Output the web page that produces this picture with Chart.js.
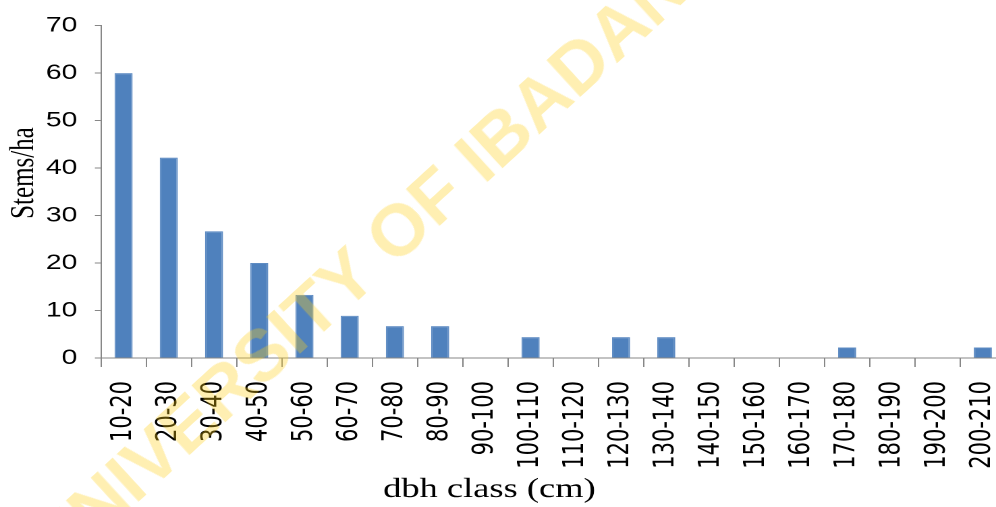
<!DOCTYPE html>
<html>
<head>
<meta charset="utf-8">
<script src="https://cdn.jsdelivr.net/npm/chart.js@4/dist/chart.umd.min.js"></script>
<style>
  html, body { margin: 0; padding: 0; background: #fff; overflow: hidden; }
  #stage { position: relative; width: 996px; height: 507px; overflow: hidden; }
  #wrap { position: absolute; left: 0; top: 0; width: 746px; height: 507px;
          transform: scaleX(1.3496); transform-origin: 0 0; }
  #wm { position: absolute; left: 358px; top: 266px; white-space: nowrap;
        font: bold 73px "Liberation Sans", Arial, sans-serif; line-height: 1;
        color: rgba(255, 205, 20, 0.33); transform: translate(-50%, -50%) rotate(-42.5deg);
        pointer-events: none; }
</style>
</head>
<body>
<div id="stage">
  <div id="wrap"><canvas id="c" width="746" height="507"></canvas></div>
  <div id="wm">UNIVERSITY OF IBADAN</div>
</div>
<script>
const categories = ["10-20","20-30","30-40","40-50","50-60","60-70","70-80","80-90","90-100","100-110",
  "110-120","120-130","130-140","140-150","150-160","160-170","170-180","180-190","190-200","200-210"];
const stemsPerHa = [60, 42.2, 26.7, 20, 13.3, 8.9, 6.7, 6.7, 0, 4.4, 0, 4.4, 4.4, 0, 0, 0, 2.2, 0, 0, 2.2];
const yTicks = [0, 10, 20, 30, 40, 50, 60, 70];
const xTitle = "dbh class (cm)";
const yTitle = "Stems/ha";

const axisColor = "#878787";

new Chart(document.getElementById("c"), {
  type: "bar",
  data: {
    labels: categories,
    datasets: [{
      data: stemsPerHa,
      backgroundColor: "#4F81BD",
      borderColor: "#5f8cc3",
      borderWidth: 1,
      categoryPercentage: 1,
      barPercentage: 0.4
    }]
  },
  options: {
    responsive: false,
    devicePixelRatio: 2,
    animation: false,
    layout: { padding: { top: 22, right: 1, left: 0, bottom: 0 } },
    plugins: { legend: { display: false }, tooltip: { enabled: false } },
    scales: {
      x: {
        grid: { display: true, drawOnChartArea: false, drawTicks: true, tickLength: 9, color: axisColor, offset: true },
        border: { display: true, color: axisColor, width: 1 },
        ticks: {
          autoSkip: false, maxRotation: 90, minRotation: 90, padding: 14,
          color: "#000", font: { family: "'DejaVu Sans', sans-serif", size: 21 }
        },
        title: {
          display: true, text: xTitle + "              ", color: "#000",
          font: { family: "'Liberation Serif', 'Times New Roman', serif", size: 27 },
          padding: { top: 6, bottom: 1 }
        },
        afterFit: (s) => { s.height = 149; s.paddingLeft = 0; s.paddingRight = 0; }
      },
      y: {
        min: 0, max: 70,
        afterBuildTicks: (s) => { s.ticks = yTicks.map(v => ({ value: v })); },
        grid: { display: true, drawOnChartArea: false, drawTicks: true, tickLength: 4.5, color: axisColor },
        border: { display: true, color: axisColor, width: 1 },
        ticks: {
          padding: 13, color: "#000",
          font: { family: "'Liberation Sans', Arial, sans-serif", size: 21 }
        },
        title: {
          display: true, text: "      " + yTitle, color: "#000",
          font: { family: "'Liberation Serif', 'Times New Roman', serif", size: 25 },
          padding: { top: 3, bottom: 4 }
        },
        afterFit: (s) => { s.width = 74.8; }
      }
    }
  }
});
</script>
</body>
</html>
